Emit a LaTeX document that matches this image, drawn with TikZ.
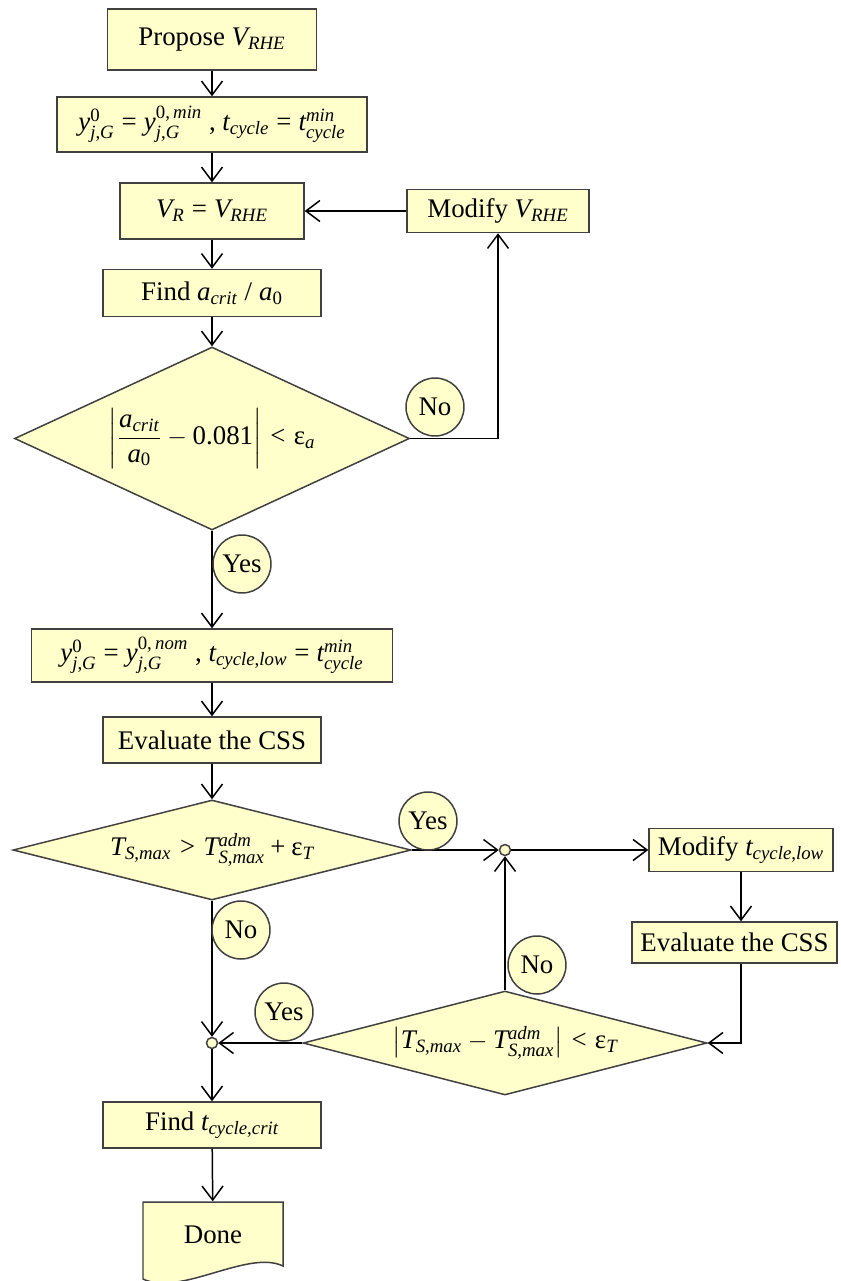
\documentclass[tikz,border=0pt]{standalone}
\usepackage{amsmath}
\usepackage[no-math]{fontspec}
\setmainfont{Liberation Serif}
\DeclareSymbolFont{letters}{TU}{\rmdefault}{m}{it}
\DeclareSymbolFont{operators}{TU}{\rmdefault}{m}{n}
\DeclareMathSymbol{,}{\mathpunct}{operators}{"2C}
\DeclareMathSymbol{.}{\mathord}{operators}{"2E}
\DeclareMathSymbol{/}{\mathord}{operators}{"2F}
\usetikzlibrary{shapes.geometric,arrows.meta}
\definecolor{boxfill}{RGB}{255,255,204}
\definecolor{boxline}{RGB}{64,64,64}
\newcommand{\lowsub}[1]{\vphantom{I}#1}
\begin{document}
\begin{tikzpicture}[x=0.02cm,y=-0.02cm,font=\fontsize{15.3}{18}\selectfont,line width=0.85pt,
  proc/.style={draw=boxline,fill=boxfill,inner sep=2pt},
  decide/.style={diamond,draw=boxline,fill=boxfill,inner sep=0pt},
  answer/.style={circle,draw=boxline,fill=boxfill,inner sep=0pt,minimum size=1.16cm},
  joint/.style={circle,draw=boxline,fill=boxfill,inner sep=0pt,minimum size=0.22cm},
  flow/.style={-{Straight Barb[length=0.28cm,width=0.42cm]}}]
\useasboundingbox (0,0) rectangle (841,1281);
\node[proc,minimum width=4.18cm,minimum height=1.22cm] (propose) at (212,39.5) {Propose $V_{RHE}$};
\node[proc,minimum width=6.2cm,minimum height=1.1cm] (ymin) at (212,124.5) {$y^{0}_{\lowsub{j,G}}=y^{0,\,min}_{\lowsub{j,G}}$\ ,\ $t_{cycle}=t^{min}_{\lowsub{cycle}}$};
\node[proc,minimum width=3.68cm,minimum height=1.12cm] (vr) at (212,211) {$V_R=V_{RHE}$};
\node[proc,minimum width=3.64cm,minimum height=0.86cm] (modV) at (498,211) {Modify $V_{RHE}$};
\node[proc,minimum width=4.36cm,minimum height=0.94cm] (findA) at (212,293) {Find $a_{crit}\;/\;a_0$};
\node[decide,aspect=2.16,minimum width=7.9cm,minimum height=3.66cm] (dec1) at (212,438.5) {$\left|\dfrac{a_{crit}}{a_0}-0.081\right|<\text{ε}_a$};
\node[proc,minimum width=7.22cm,minimum height=1.06cm] (ynom) at (212,655.5) {$y^{0}_{\lowsub{j,G}}=y^{0,\,nom}_{\lowsub{j,G}}$\ ,\ $t_{cycle,low}=t^{min}_{\lowsub{cycle}}$};
\node[proc,minimum width=4.36cm,minimum height=0.92cm] (eval1) at (212,740) {Evaluate the CSS};
\node[decide,aspect=3.98,minimum width=7.96cm,minimum height=2cm] (dec2) at (212,850) {$T_{S,max}>T^{adm}_{\lowsub{S,max}}+\text{ε}_T$};
\node[joint] (j1) at (505,850) {};
\node[proc,minimum width=3.68cm,minimum height=0.86cm] (modT) at (741,850) {Modify $t_{cycle,low}$};
\node[proc,minimum width=4.1cm,minimum height=0.82cm] (eval2) at (734.5,942.5) {Evaluate the CSS};
\node[decide,aspect=3.88,minimum width=8.08cm,minimum height=2.08cm] (dec3) at (505,1043) {$\left|T_{S,max}-T^{adm}_{\lowsub{S,max}}\right|<\text{ε}_T$};
\node[joint] (j2) at (212,1043) {};
\node[proc,minimum width=4.36cm,minimum height=0.92cm] (findT) at (212,1125) {Find $t_{cycle,crit}$};
\draw[draw=boxline,fill=boxfill] (143,1202) -- (283,1202) -- (283,1266) .. controls (248,1249) and (180,1297) .. (143,1279) -- cycle;
\node[minimum width=2.8cm,minimum height=1.3cm] (done) at (213,1234.5) {Done};
\draw[flow] (propose) -- (ymin);
\draw[flow] (ymin) -- (vr);
\draw[flow] (vr) -- (findA);
\draw[flow] (findA) -- (dec1);
\draw[flow] (dec1.east) -| (modV);
\draw[flow] (modV) -- (vr);
\draw[flow] (dec1) -- (ynom);
\draw[flow] (ynom) -- (eval1);
\draw[flow] (eval1) -- (dec2);
\draw[flow] (dec2) -- (j1);
\draw[flow] (j1) -- (modT);
\draw[flow] (modT) -- (modT |- eval2.north);
\draw[flow] (eval2.south -| modT) |- (dec3.east);
\draw[flow] (dec3) -- (j1);
\draw[flow] (dec3.west) -- (j2);
\draw[flow] (dec2) -- (j2);
\draw[flow] (j2) -- (findT);
\draw[flow] (findT) -- (done);
\node[answer] (noA) at (435,407) {No};
\node[answer] (yesA) at (242,564) {Yes};
\node[answer] (yesB) at (428,821) {Yes};
\node[answer] (noC) at (241,930) {No};
\node[answer] (noB) at (537,965) {No};
\node[answer] (yesC) at (284,1012) {Yes};
\end{tikzpicture}
\end{document}
